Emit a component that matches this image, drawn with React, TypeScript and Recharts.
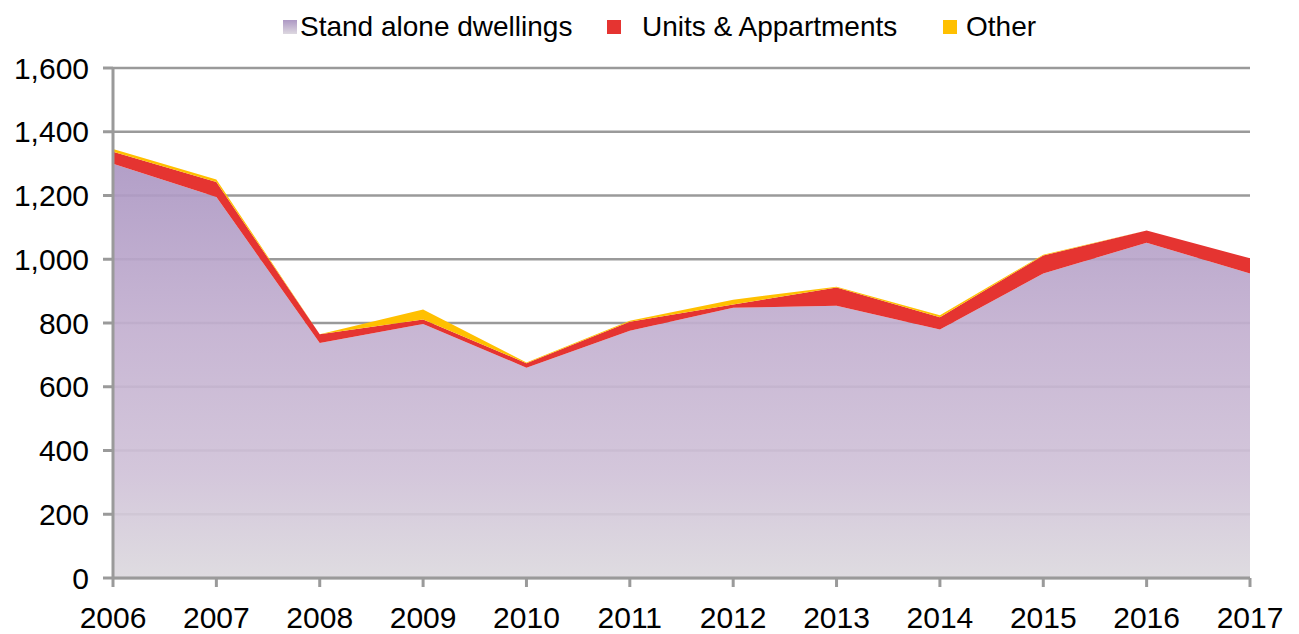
import { AreaChart, Area, XAxis, YAxis, CartesianGrid } from 'recharts';

const years = ['2006', '2007', '2008', '2009', '2010', '2011', '2012', '2013', '2014', '2015', '2016', '2017'];
const standAlone = [1300, 1195, 737, 797, 660, 776, 848, 854, 780, 955, 1052, 955];
const unitsAppartments = [37, 47, 28, 14, 14, 28, 10, 57, 38, 57, 38, 48];
const other = [9, 8, 0, 31, 2, 3, 15, 3, 6, 2, 0, 0];
const yTicks = [0, 200, 400, 600, 800, 1000, 1200, 1400, 1600];

const FONT = 'Liberation Sans, Arial, sans-serif';

const legendItems = [
  { name: 'Stand alone dwellings', swatch: 'linear-gradient(#ad98c4, #ddd8e0)', iconX: 283, textX: 300 },
  { name: 'Units & Appartments', swatch: '#e53431', iconX: 607, textX: 642 },
  { name: 'Other', swatch: '#ffc000', iconX: 943, textX: 966 },
];

export default function App() {
  const data = years.map((year, i) => ({
    year,
    stand: standAlone[i],
    units: unitsAppartments[i],
    other: other[i],
  }));

  return (
    <div style={{ position: 'absolute', left: 0, top: 0, width: 1299, height: 634, background: '#fff', fontFamily: FONT }}>
      {legendItems.map((item) => (
        <div key={item.name}>
          <div style={{ position: 'absolute', left: item.iconX, top: 20, width: 14, height: 14, background: item.swatch }} />
          <div style={{ position: 'absolute', left: item.textX, top: 10, fontSize: 28, lineHeight: '34px', color: '#000', whiteSpace: 'nowrap' }}>
            {item.name}
          </div>
        </div>
      ))}
      <AreaChart width={1299} height={634} data={data} margin={{ top: 68, right: 49, bottom: 6, left: 13 }}>
        <defs>
          <linearGradient id="standFill" x1="0" y1="0" x2="0" y2="1">
            <stop offset="0%" stopColor="#ac97c3" />
            <stop offset="40%" stopColor="#c3b0d0" />
            <stop offset="75%" stopColor="#d0c2d8" />
            <stop offset="100%" stopColor="#dcd9de" />
          </linearGradient>
        </defs>
        <CartesianGrid vertical={false} stroke="#9a9a9a" strokeWidth={2.5} />
        <XAxis
          dataKey="year"
          height={50}
          stroke="#9a9a9a"
          strokeWidth={3}
          tickSize={9}
          tickMargin={20}
          tick={{ fill: '#000', fontSize: 30, fontFamily: FONT }}
          interval={0}
        />
        <YAxis
          width={100}
          domain={[0, 1600]}
          ticks={yTicks}
          stroke="#9a9a9a"
          strokeWidth={3}
          tickSize={10}
          tickMargin={14}
          tick={{ fill: '#000', fontSize: 30, fontFamily: FONT }}
          tickFormatter={(v: number) => v.toLocaleString('en-US')}
        />
        <Area type="linear" dataKey="stand" stackId="1" stroke="none" fill="url(#standFill)" fillOpacity={0.92} isAnimationActive={false} />
        <Area type="linear" dataKey="units" stackId="1" stroke="none" fill="#e53431" fillOpacity={1} isAnimationActive={false} />
        <Area type="linear" dataKey="other" stackId="1" stroke="none" fill="#ffc000" fillOpacity={1} isAnimationActive={false} />
      </AreaChart>
    </div>
  );
}
